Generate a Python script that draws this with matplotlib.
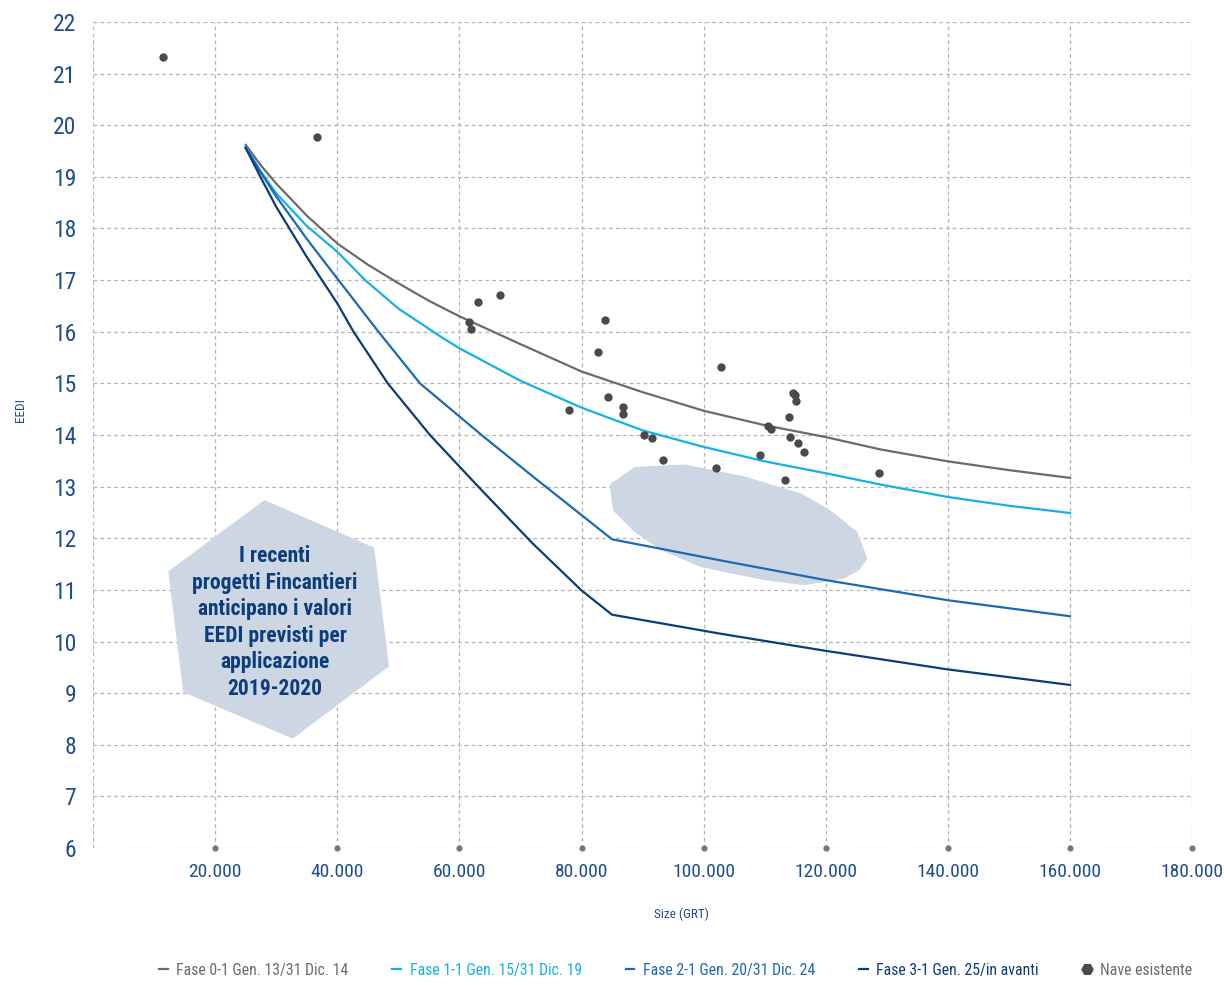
import matplotlib.pyplot as plt
from matplotlib.lines import Line2D
from matplotlib.patches import Polygon

plt.rcParams['font.family'] = ['Roboto Condensed', 'DejaVu Sans']

# curve readings (GRT, EEDI)
fase0_x = [25000, 27500, 30000, 35000, 40000, 45000, 50000, 55000, 60000, 70000, 80000, 90000,
           100000, 110000, 120000, 129000, 140000, 150000, 160000]
fase0_y = [19.62, 19.22, 18.87, 18.25, 17.71, 17.30, 16.94, 16.60, 16.30, 15.76, 15.23, 14.83,
           14.47, 14.19, 13.96, 13.72, 13.49, 13.32, 13.17]
fase1_x = [25000, 27500, 30000, 35000, 40000, 44560, 50000, 57000, 60000, 70000, 80000, 90000,
           100000, 110000, 120000, 129000, 140000, 150000, 160000]
fase1_y = [19.58, 19.10, 18.68, 18.05, 17.55, 17.00, 16.45, 15.90, 15.68, 15.05, 14.53, 14.09,
           13.77, 13.49, 13.26, 13.04, 12.80, 12.63, 12.49]
fase2_x = [25000, 27500, 30000, 35000, 40000, 46750, 53550, 63630, 72000, 80000, 85000, 102850, 120000, 140000, 160000]
fase2_y = [19.56, 19.08, 18.62, 17.80, 17.03, 16.00, 15.00, 14.00, 13.20, 12.45, 11.98, 11.57, 11.19, 10.80, 10.49]
fase3_x = [25000, 27500, 30000, 35000, 40000, 42660, 48270, 55180, 63090, 72000, 80000, 85000, 102850, 120000, 140000, 160000]
fase3_y = [19.56, 18.98, 18.42, 17.45, 16.55, 16.00, 15.00, 14.00, 13.00, 11.90, 10.99, 10.52, 10.15, 9.82, 9.46, 9.16]

# existing ships
navi_x = [11400, 36600, 61500, 61900, 63100, 66700, 78000, 82750, 83900, 84400, 86800, 86800,
          90300, 91600, 93400, 102000, 102900, 109300, 110600, 111100, 113400, 113900, 114100,
          114600, 115000, 115100, 115500, 116500, 128700]
navi_y = [21.33, 19.78, 16.18, 16.06, 16.57, 16.72, 14.48, 15.61, 16.23, 14.74, 14.55, 14.40,
          14.00, 13.94, 13.52, 13.36, 15.31, 13.61, 14.17, 14.11, 13.13, 14.34, 13.97,
          14.82, 14.78, 14.65, 13.84, 13.67, 13.27]

xticks = [0, 20000, 40000, 60000, 80000, 100000, 120000, 140000, 160000, 180000]
xlabels = ['', '20.000', '40.000', '60.000', '80.000', '100.000', '120.000', '140.000', '160.000', '180.000']
yticks = list(range(6, 23))

labels = ['Fase 0-1 Gen. 13/31 Dic. 14', 'Fase 1-1 Gen. 15/31 Dic. 19',
          'Fase 2-1 Gen. 20/31 Dic. 24', 'Fase 3-1 Gen. 25/in avanti', 'Nave esistente']
colors = ['#6b6b6b', '#14b1e7', '#1a6ab4', '#0d3b7c']

# annotation shapes
hex_x = [28056, 46029, 48480, 32696, 14771, 12320]
hex_y = [12.74, 11.82, 9.52, 8.12, 9.02, 11.36]
blob_x = [84590, 88680, 96850, 106650, 115920, 120820, 125180, 126810, 125440, 122990,
          116450, 109920, 99580, 93040, 88680, 85150]
blob_y = [13.04, 13.38, 13.43, 13.20, 12.87, 12.54, 12.12, 11.61, 11.38, 11.22,
          11.09, 11.19, 11.44, 11.77, 12.12, 12.54]

blu = '#1f4e8c'
fill = '#cdd7e3'

fig = plt.figure(figsize=(12.24, 9.85), dpi=100)
ax = fig.add_axes([0.076, 0.139, 0.898, 0.8387])

ax.add_patch(Polygon(list(zip(hex_x, hex_y)), closed=True, facecolor=fill, edgecolor='none', zorder=1))
ax.add_patch(Polygon(list(zip(blob_x, blob_y)), closed=True, facecolor=fill, edgecolor='none', zorder=1))
ax.text(29800, 10.37, 'I recenti\nprogetti Fincantieri\nanticipano i valori\nEEDI previsti per\napplicazione\n2019-2020',
        ha='center', va='center', fontsize=15.5, fontweight='bold', color='#0e3d7b',
        linespacing=1.27, zorder=3)

for xs, ys, c in zip([fase0_x, fase1_x, fase2_x, fase3_x], [fase0_y, fase1_y, fase2_y, fase3_y], colors):
    ax.plot(xs, ys, color=c, lw=1.6, zorder=4, solid_joinstyle='round')

ax.scatter(navi_x, navi_y, s=36, color='#4a4a4a', zorder=5, linewidths=0)
ax.scatter(xticks[1:], [6] * (len(xticks) - 1), s=20, color='#777777', zorder=5, clip_on=False, linewidths=0)

ax.set_xlim(0, 180000)
ax.set_ylim(6, 22)
ax.set_xticks(xticks)
ax.set_xticklabels(xlabels)
ax.set_yticks(yticks)
ax.grid(True, color='#b5b5b5', linestyle=(0, (3, 2.5)), lw=0.9)
ax.set_axisbelow(True)
for s in ax.spines.values():
    s.set_visible(False)
ax.tick_params(axis='x', length=0, pad=11, labelsize=14, labelcolor=blu)
ax.tick_params(axis='y', length=0, pad=12, labelsize=17, labelcolor=blu)
ax.set_xlabel('Size (GRT)', fontsize=9.5, color=blu)
ax.xaxis.set_label_coords(0.535, -0.072)
ax.set_ylabel('EEDI', fontsize=9.5, color=blu)
ax.yaxis.set_label_coords(-0.060, 0.53)

handles = [Line2D([], [], color=c, lw=1.6) for c in colors]
handles.append(Line2D([], [], color='#4a4a4a', marker='H', ls='none', markersize=8))
fig.legend(handles, labels, loc='center', bbox_to_anchor=(0.552, 0.015), ncol=5,
           frameon=False, fontsize=11.3, handlelength=0.55, handletextpad=0.55,
           columnspacing=2.8, labelcolor=colors + ['#6b6b6b'])

fig.savefig('out.png', dpi=100)
